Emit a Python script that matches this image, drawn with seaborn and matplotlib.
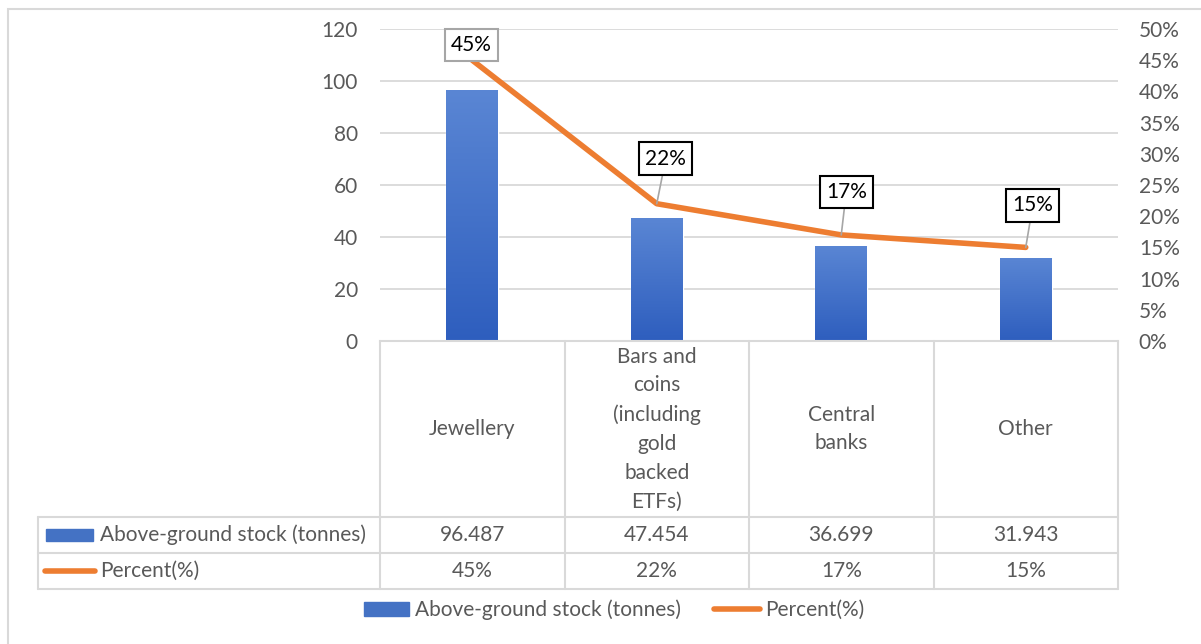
import textwrap
import numpy as np
import pandas as pd
import matplotlib
matplotlib.use("Agg")
import matplotlib.pyplot as plt
import seaborn as sns
from matplotlib.lines import Line2D
from matplotlib.patches import Patch, Rectangle
from matplotlib.transforms import blended_transform_factory
from matplotlib.colors import LinearSegmentedColormap

# ---- data ----
categories = ["Jewellery", "Bars and coins (including gold backed ETFs)", "Central banks", "Other"]
stock_tonnes = [96.487, 47.454, 36.699, 31.943]
percent = [0.45, 0.22, 0.17, 0.15]
stock_labels = ["96.487", "47.454", "36.699", "31.943"]
percent_labels = ["45%", "22%", "17%", "15%"]
series_bar = "Above-ground stock (tonnes)"
series_line = "Percent(%)"
left_ticks = [0, 20, 40, 60, 80, 100, 120]
right_ticks = [0, 0.05, 0.10, 0.15, 0.20, 0.25, 0.30, 0.35, 0.40, 0.45, 0.50]

# ---- style ----
sns.set_theme(style="white")
plt.rcParams['font.family'] = ['Lato', 'DejaVu Sans']
TXT = "#595959"
GRID = "#d9d9d9"
BLUE = "#4472C4"
ORANGE = "#ED7D31"
FS = 15

W, H = 1201, 644
fig = plt.figure(figsize=(W / 100, H / 100), dpi=100)
fx = lambda px: px / W
fy = lambda py: 1 - py / H

# outer border
fig.add_artist(Rectangle((fx(8), fy(700)), fx(1300) - fx(8), fy(9) - fy(700),
                         transform=fig.transFigure, fill=False, edgecolor=GRID, lw=1.5))

L, R, T, B = 380, 1118, 29, 341
ax = fig.add_axes([fx(L), fy(B), fx(R) - fx(L), fy(T) - fy(B)])

df = pd.DataFrame({"cat": categories, "val": stock_tonnes})
sns.barplot(data=df, x="cat", y="val", ax=ax, color=BLUE, width=0.28, saturation=1)

# gradient fill on the bars
cmap = LinearSegmentedColormap.from_list("g", ["#2E5EBE", "#5A86D4"])
grad = np.linspace(0, 1, 256).reshape(-1, 1)
for p in ax.patches:
    x0, y0 = p.get_x(), p.get_y()
    w, h = p.get_width(), p.get_height()
    im = ax.imshow(grad, cmap=cmap, extent=[x0, x0 + w, y0, y0 + h], origin="lower",
                   aspect="auto", zorder=p.get_zorder() + 0.1)
    im.set_clip_path(p)

ax.set_xlim(-0.5, len(categories) - 0.5)
ax.set_ylim(0, 120)
ax.set_yticks(left_ticks)
ax.set_yticklabels([str(t) for t in left_ticks])
ax.tick_params(axis="y", length=0, pad=16, labelsize=FS, labelcolor=TXT)
ax.set_xticks([])
ax.set_xlabel("")
ax.set_ylabel("")
ax.yaxis.grid(True, color=GRID, lw=1.3)
ax.set_axisbelow(True)
for s in ["top", "left", "right"]:
    ax.spines[s].set_visible(False)
ax.spines["bottom"].set_color(GRID)
ax.spines["bottom"].set_linewidth(1.5)

ax2 = ax.twinx()
xpos = np.arange(len(categories))
sns.lineplot(x=xpos, y=percent, ax=ax2, color=ORANGE, lw=4, solid_capstyle="round")
ax2.set_ylim(0, 0.5)
ax2.set_yticks(right_ticks)
ax2.set_yticklabels([f"{int(round(t * 100))}%" for t in right_ticks])
ax2.tick_params(axis="y", length=0, pad=15, labelsize=FS, labelcolor=TXT)
for s in ax2.spines.values():
    s.set_visible(False)
ax2.set_ylabel("")

# data labels with leader lines
offsets = [(-1, 15), (9, 45), (5, 43), (7, 42)]
edges = ["#a6a6a6", "black", "black", "black"]
for i, (lab, off, ec) in enumerate(zip(percent_labels, offsets, edges)):
    ax2.annotate(lab, xy=(xpos[i], percent[i]), xytext=off, textcoords="offset pixels",
                 ha="center", va="center", fontsize=FS, color="black",
                 bbox=dict(boxstyle="square,pad=0.3", fc="white", ec=ec, lw=1.5),
                 arrowprops=dict(arrowstyle="-", color="#a6a6a6", lw=1.2, shrinkA=0, shrinkB=0),
                 zorder=5)

# ---- data table ----
bt = blended_transform_factory(ax.transData, fig.transFigure)
n = len(categories)
edges_x = np.arange(n + 1) - 0.5
row_y = [341, 517, 553, 589]
for y in row_y[1:]:
    fig.add_artist(Line2D([fx(38), fx(R)], [fy(y), fy(y)], transform=fig.transFigure, color=GRID, lw=1.5))
for xe in edges_x:
    fig.add_artist(Line2D([xe, xe], [fy(341), fy(589)], transform=bt, color=GRID, lw=1.5))
fig.add_artist(Line2D([fx(38), fx(38)], [fy(517), fy(589)], transform=fig.transFigure, color=GRID, lw=1.5))

for i, c in enumerate(categories):
    fig.text(i, fy(429), textwrap.fill(c, 10), transform=bt, ha="center", va="center",
             fontsize=FS, color=TXT, linespacing=1.55)
    fig.text(i, fy(535), stock_labels[i], transform=bt, ha="center", va="center", fontsize=FS, color=TXT)
    fig.text(i, fy(571), percent_labels[i], transform=bt, ha="center", va="center", fontsize=FS, color=TXT)

# row headers with legend keys
fig.add_artist(Rectangle((fx(46), fy(541)), fx(93) - fx(46), fy(529) - fy(541),
                         transform=fig.transFigure, color=BLUE))
fig.text(fx(100), fy(535), series_bar, ha="left", va="center", fontsize=FS, color=TXT)
fig.add_artist(Line2D([fx(45), fx(95)], [fy(571), fy(571)], transform=fig.transFigure,
                      color=ORANGE, lw=4, solid_capstyle="round"))
fig.text(fx(100), fy(571), series_line, ha="left", va="center", fontsize=FS, color=TXT)

# bottom legend
handles = [Patch(facecolor=BLUE, edgecolor=BLUE, label=series_bar),
           Line2D([], [], color=ORANGE, lw=4, solid_capstyle="round", label=series_line)]
fig.legend(handles=handles, loc="center", bbox_to_anchor=(fx(614), fy(610)), ncol=2,
           frameon=False, fontsize=FS, labelcolor=TXT, handlelength=2.2, handleheight=0.7,
           handletextpad=0.25, columnspacing=1.6)

fig.savefig("out.png", dpi=100)
